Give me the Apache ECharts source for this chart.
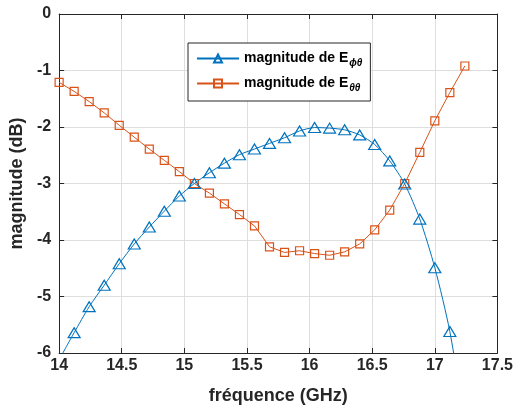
<!DOCTYPE html>
<html>
<head>
<meta charset="utf-8">
<script src="https://cdn.jsdelivr.net/npm/echarts@6/dist/echarts.min.js"></script>
<style>
html,body{margin:0;padding:0;background:#fff;}
#chart{width:516px;height:410px;}
</style>
</head>
<body>
<div id="chart"></div>
<script>
// frequency samples (GHz)
const freq = [14.00,14.12,14.24,14.36,14.48,14.60,14.72,14.84,14.96,15.08,15.20,15.32,15.44,15.56,15.68,15.80,15.92,16.04,16.16,16.28,16.40,16.52,16.64,16.76,16.88,17.00,17.12,17.24];
// magnitude of E_phi-theta (dB)
const ePhiTheta = [-6.12,-5.64,-5.18,-4.80,-4.42,-4.07,-3.77,-3.49,-3.22,-3.00,-2.81,-2.64,-2.49,-2.39,-2.29,-2.19,-2.07,-2.01,-2.02,-2.05,-2.14,-2.31,-2.60,-3.01,-3.63,-4.49,-5.62,-7.25];
// magnitude of E_theta-theta (dB)
const eThetaTheta = [-1.21,-1.37,-1.55,-1.75,-1.97,-2.18,-2.39,-2.59,-2.79,-3.00,-3.17,-3.36,-3.55,-3.75,-4.12,-4.22,-4.19,-4.24,-4.27,-4.21,-4.07,-3.82,-3.47,-3.00,-2.45,-1.89,-1.39,-0.92];
const xTicks = {min:14, max:17.5, interval:0.5};
const yTicks = {min:-6, max:0, interval:1};
const legendNames = ['phi','theta'];

const FONT = '"Liberation Sans", Arial, sans-serif';
const axisColor = '#262626';
const gridColor = '#dedede';

const chart = echarts.init(document.getElementById('chart'), null, {renderer:'canvas'});

function pairs(xs, ys){ return xs.map((x,i)=>[x, ys[i]]); }

const baseAxisX = {
  type:'value', min:xTicks.min, max:xTicks.max, interval:xTicks.interval,
  axisLine:{show:true, onZero:false, lineStyle:{color:axisColor, width:1}},
  axisTick:{show:true, inside:true, length:5, lineStyle:{color:axisColor}},
};
const baseAxisY = {
  type:'value', min:yTicks.min, max:yTicks.max, interval:yTicks.interval,
  axisLine:{show:true, onZero:false, lineStyle:{color:axisColor, width:1}},
  axisTick:{show:true, inside:true, length:5, lineStyle:{color:axisColor}},
};

chart.setOption({
  animation:false,
  backgroundColor:'#fff',
  grid:{left:55, top:14, right:18, bottom:56, containLabel:false},
  xAxis:[
    Object.assign({}, baseAxisX, {
      position:'bottom',
      name:'fréquence (GHz)', nameLocation:'middle', nameGap:34,
      nameTextStyle:{fontFamily:FONT, fontWeight:'bold', fontSize:18, color:'#262626', verticalAlign:'top'},
      axisLabel:{show:true, margin:5, fontFamily:FONT, fontWeight:'bold', fontSize:16, color:'#262626'},
      splitLine:{show:true, lineStyle:{color:gridColor, width:1}}
    }),
    Object.assign({}, baseAxisX, {
      position:'top', axisLabel:{show:false}, splitLine:{show:false}
    })
  ],
  yAxis:[
    Object.assign({}, baseAxisY, {
      position:'left',
      name:'magnitude (dB)', nameLocation:'middle', nameGap:25,
      nameTextStyle:{fontFamily:FONT, fontWeight:'bold', fontSize:18, color:'#262626'},
      axisLabel:{show:true, margin:8, fontFamily:FONT, fontWeight:'bold', fontSize:16, color:'#262626'},
      splitLine:{show:true, lineStyle:{color:gridColor, width:1}}
    }),
    Object.assign({}, baseAxisY, {
      position:'right', axisLabel:{show:false}, splitLine:{show:false}
    })
  ],
  legend:{
    left:188, top:43, orient:'vertical',
    backgroundColor:'#fff', borderColor:axisColor, borderWidth:1,
    padding:[6,8,8,8], itemGap:6, itemWidth:42, itemHeight:10,
    data:legendNames,
    formatter:function(n){
      return n==='phi' ? '{a|magnitude de E}{s|ϕθ}' : '{a|magnitude de E}{s|θθ}';
    },
    textStyle:{
      fontFamily:FONT, color:'#000', padding:[0,0,0,0],
      rich:{
        a:{fontFamily:FONT, fontWeight:'bold', fontSize:14, color:'#000', lineHeight:19},
        s:{fontFamily:FONT, fontWeight:'bold', fontStyle:'italic', fontSize:10, color:'#000', lineHeight:19, padding:[9,0,0,1]}
      }
    }
  },
  series:[
    {
      name:'phi', type:'line', xAxisIndex:0, yAxisIndex:0,
      data:pairs(freq, ePhiTheta), smooth:0.25, clip:true,
      symbol:'triangle', symbolSize:[12,10], showAllSymbol:true,
      lineStyle:{color:'#0072BD', width:1},
      itemStyle:{color:'rgba(255,255,255,0)', borderColor:'#0072BD', borderWidth:1.2},
      color:'#0072BD', z:3
    },
    {
      name:'theta', type:'line', xAxisIndex:0, yAxisIndex:0,
      data:pairs(freq, eThetaTheta), smooth:false, clip:true,
      symbol:'rect', symbolSize:8, showAllSymbol:true,
      lineStyle:{color:'#D95319', width:1},
      itemStyle:{color:'rgba(255,255,255,0)', borderColor:'#D95319', borderWidth:1.2},
      color:'#D95319', z:2
    }
  ]
});
</script>
</body>
</html>
